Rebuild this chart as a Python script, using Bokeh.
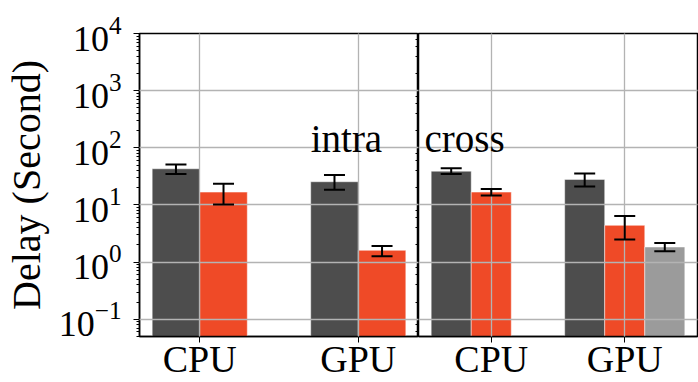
from bokeh.plotting import figure
from bokeh.models import (Range1d, Whisker, TeeHead, Label, ColumnDataSource,
                          LogAxis, LogTicker, FixedTicker, CustomJSTickFormatter)
from bokeh.layouts import row
from bokeh.transform import dodge
from bokeh.embed import file_html
from bokeh.resources import INLINE

# ---------------- data ----------------
categories = ["CPU", "GPU"]

# "intra" panel
intra_dark_mean = [43.0, 25.5]
intra_dark_low = [35.0, 18.5]
intra_dark_high = [51.0, 33.3]
intra_red_mean = [16.8, 1.61]
intra_red_low = [10.2, 1.27]
intra_red_high = [23.5, 1.92]

# "cross" panel
cross_dark_mean = [39.0, 28.0]
cross_dark_low = [35.0, 21.1]
cross_dark_high = [44.0, 35.6]
cross_red_mean = [16.8, 4.4]
cross_red_low = [14.7, 2.48]
cross_red_high = [19.0, 6.4]
cross_light_categories = ["GPU"]
cross_light_mean = [1.84]
cross_light_low = [1.55]
cross_light_high = [2.16]

panel_labels = ["intra", "cross"]
y_label = "Delay (Second)"

# ---------------- style ----------------
DARK = "#4d4d4d"
RED = "#ef4a27"
LIGHT = "#9b9b9b"
FONT = "Liberation Serif"
GRID = "#b3b3b3"
BAR_W = 0.3

y_range = Range1d(0.05, 1e4)
blank = CustomJSTickFormatter(code="return ''")


def make_src(cats, mean, low, high):
    return ColumnDataSource(dict(
        x=[categories.index(c) for c in cats], mean=mean, low=low, high=high))


def style(p):
    p.outline_line_color = "black"
    p.outline_line_width = 1.5
    ticks = list(range(len(categories)))
    p.xaxis.ticker = FixedTicker(ticks=ticks)
    p.xaxis.major_label_overrides = {i: c for i, c in enumerate(categories)}
    p.xaxis.major_label_text_font = FONT
    p.xaxis.major_label_text_font_size = "38px"
    p.xaxis.major_label_text_color = "black"
    p.xaxis.major_label_standoff = -5
    p.xaxis.major_tick_out = 6
    p.xaxis.major_tick_in = 0
    p.xaxis.major_tick_line_color = "black"
    p.xaxis.minor_tick_line_color = None
    p.xaxis.axis_line_color = "black"
    p.xaxis.axis_line_width = 1.5
    p.xgrid.ticker = FixedTicker(ticks=ticks)
    for g in (p.xgrid, p.ygrid):
        g.grid_line_color = GRID
        g.grid_line_width = 1.3
        g.level = "guide"


def bars(p, src, offset, color):
    p.vbar(x=dodge("x", offset, range=p.x_range), top="mean", bottom=1e-3,
           width=BAR_W, source=src, fill_color=color, line_color="white",
           line_alpha=0.6, line_width=0.8)
    p.add_layout(Whisker(source=src, base=dodge("x", offset, range=p.x_range),
                         upper="high", lower="low", dimension="height",
                         line_color="black", line_width=2,
                         upper_head=TeeHead(size=21, line_width=2, line_color="black"),
                         lower_head=TeeHead(size=21, line_width=2, line_color="black"),
                         level="annotation"))


def panel_label(p, text, x, y):
    p.add_layout(Label(x=x, y=y, y_offset=15, text=text, text_font=FONT,
                       text_font_size="39px", text_color="black",
                       text_align="left", text_baseline="alphabetic"))


H = 382
TOP = 33
BOTTOM = 46
# ---------------- left panel (intra) ----------------
p1 = figure(width=418, height=H, y_axis_type="log", x_range=Range1d(-0.38, 1.38),
            y_range=y_range, output_backend="svg", toolbar_location=None,
            min_border_left=139, min_border_right=0, min_border_top=TOP,
            min_border_bottom=BOTTOM, background_fill_color="white",
            border_fill_color="white")
style(p1)
p1.yaxis.axis_label = y_label
p1.yaxis.axis_label_text_font = FONT
p1.yaxis.axis_label_text_font_size = "40px"
p1.yaxis.axis_label_text_font_style = "normal"
p1.yaxis.axis_label_text_color = "black"
p1.yaxis.axis_label_standoff = 7
p1.yaxis.major_label_text_font = FONT
p1.yaxis.major_label_text_font_size = "36px"
p1.yaxis.major_label_text_color = "black"
p1.yaxis.major_label_standoff = 12
p1.yaxis.major_tick_out = 6
p1.yaxis.major_tick_in = 0
p1.yaxis.minor_tick_out = 3
p1.yaxis.minor_tick_in = 0
p1.yaxis.major_tick_line_color = "black"
p1.yaxis.minor_tick_line_color = "black"
p1.yaxis.axis_line_color = "black"
p1.yaxis.axis_line_width = 1.5

ax_r = LogAxis(ticker=LogTicker(), formatter=blank,
               major_tick_in=6, major_tick_out=0, minor_tick_in=3, minor_tick_out=0,
               major_label_standoff=0, major_label_text_font_size="0px",
               major_tick_line_color="black", minor_tick_line_color="black",
               axis_line_color=None)
p1.add_layout(ax_r, "right")

bars(p1, make_src(categories, intra_dark_mean, intra_dark_low, intra_dark_high), -BAR_W / 2, DARK)
bars(p1, make_src(categories, intra_red_mean, intra_red_low, intra_red_high), BAR_W / 2, RED)
panel_label(p1, panel_labels[0], 0.7, 80)

# ---------------- right panel (cross) ----------------
p2 = figure(width=280, height=H, y_axis_type="log", x_range=Range1d(-0.545, 1.545),
            y_range=y_range, output_backend="svg", toolbar_location=None,
            y_axis_location=None, min_border_left=0, min_border_right=1,
            min_border_top=TOP, min_border_bottom=BOTTOM,
            background_fill_color="white", border_fill_color="white")
style(p2)
bars(p2, make_src(categories, cross_dark_mean, cross_dark_low, cross_dark_high), -BAR_W, DARK)
bars(p2, make_src(categories, cross_red_mean, cross_red_low, cross_red_high), 0.0, RED)
bars(p2, make_src(cross_light_categories, cross_light_mean, cross_light_low, cross_light_high), BAR_W, LIGHT)
panel_label(p2, panel_labels[1], -0.5, 80)

layout = row(p1, p2)
open("out.html", "w").write(file_html(layout, INLINE))
